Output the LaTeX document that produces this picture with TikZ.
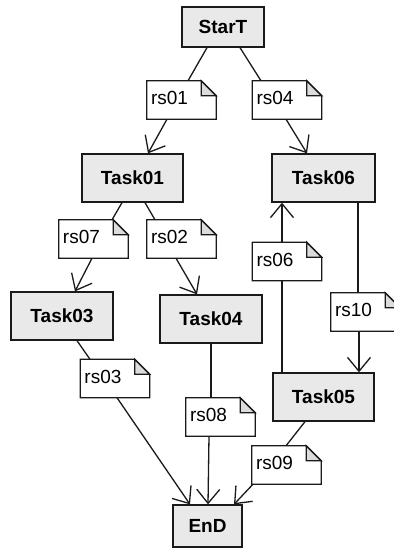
\documentclass[tikz,border=0pt]{standalone}
\usepackage{fontspec}
\setmainfont{Liberation Sans}
\usetikzlibrary{arrows.meta}

\definecolor{linec}{HTML}{1A1A1A}
\definecolor{taskfill}{HTML}{E9E9E9}
\definecolor{foldfill}{HTML}{DCDCDC}

\tikzset{
  task/.style={draw=linec, line width=1.3pt, fill=taskfill, inner sep=0pt,
    minimum width=102pt, minimum height=48pt,
    font=\fontsize{19}{22}\selectfont\bfseries},
  notebase/.style={draw=none, inner xsep=4pt, inner ysep=0pt,
    minimum width=69pt, text width=61pt, align=left, minimum height=38pt,
    font=\fontsize{19}{22}\selectfont},
  noteline/.style={draw=linec, line width=1.3pt, line join=miter, fill=white},
  foldline/.style={draw=linec, line width=1.3pt, fill=foldfill},
  flow/.style={draw=linec, line width=1.3pt},
  flowarrow/.style={flow, -{Straight Barb[length=14pt, width=23pt, line width=1.3pt]}},
}

% a UML-style note with a folded top-right corner
\newcommand\notebox[3]{%
  \node[notebase] (#1) at (#2) {};
  \path[noteline] (#1.north west) -- ([xshift=-15pt]#1.north east)
    -- ([yshift=-15pt]#1.north east) -- (#1.south east) -- (#1.south west) -- cycle;
  \path[foldline] ([xshift=-15pt]#1.north east) -- ([xshift=-15pt,yshift=-15pt]#1.north east)
    -- ([yshift=-15pt]#1.north east) -- cycle;
  \node[notebase, yshift=2pt] at (#1) {#3};
}

\begin{document}
\begin{tikzpicture}[x=1pt, y=-1pt]
  \useasboundingbox[fill=white] (0,0) rectangle (394,550);

  % activities
  \node[task, minimum width=82pt, minimum height=40pt] (start) at (223,27) {StarT};
  \node[task, minimum width=101pt] (t01) at (132.5,178) {Task01};
  \node[task, minimum width=103pt] (t06) at (323.5,178) {Task06};
  \node[task] (t03) at (62,316) {Task03};
  \node[task] (t04) at (211,319) {Task04};
  \node[task, minimum width=101pt] (t05) at (323.5,397) {Task05};
  \node[task, minimum width=69pt, minimum height=42pt] (end) at (207.5,526) {EnD};

  % resource notes
  \notebox{rs01}{181.5,100}{rs01}
  \notebox{rs04}{287,100}{rs04}
  \notebox{rs07}{93.5,239}{rs07}
  \notebox{rs02}{181.5,239}{rs02}
  \notebox{rs03}{115,378.5}{rs03}
  \notebox{rs06}{287,261.5}{rs06}
  \notebox{rs08}{220.5,417}{rs08}
  \notebox{rs10}{365.5,312}{rs10}
  \notebox{rs09}{286.5,465}{rs09}

  % flows
  \draw[flow] ([xshift=-16pt]start.south) -- ([xshift=6.5pt]rs01.north);
  \draw[flow] ([xshift=17pt]start.south) -- ([xshift=-26pt]rs04.north);
  \draw[flowarrow] ([xshift=-14.5pt]rs01.south) -- ([xshift=15.5pt]t01.north);
  \draw[flowarrow] ([xshift=-1pt]rs04.south) -- ([xshift=-16.5pt]t06.north);

  \draw[flow] ([xshift=-10.5pt]t01.south) -- ([xshift=18.5pt]rs07.north);
  \draw[flow] ([xshift=12.5pt]t01.south) -- ([xshift=-26.5pt]rs02.north);
  \draw[flowarrow] ([xshift=-1.5pt]rs07.south) -- ([xshift=13pt]t03.north);
  \draw[flowarrow] ([xshift=-5.5pt]rs02.south) -- ([xshift=-14pt]t04.north);

  \draw[flow] ([xshift=15pt]t03.south) -- ([xshift=-25pt]rs03.north);
  \draw[flowarrow] ([xshift=2pt]rs03.south) -- ([xshift=-17.5pt]end.north);
  \draw[flow] (t04.south) -- ([xshift=-9.5pt]rs08.north);
  \draw[flowarrow] ([xshift=-11.5pt]rs08.south) -- ([xshift=0.5pt]end.north);

  \draw[flow] ([xshift=34.5pt]t06.south) -- ([xshift=-7.5pt]rs10.north);
  \draw[flowarrow] ([xshift=-6.5pt]rs10.south) -- ([xshift=35.5pt]t05.north);
  \draw[flow] ([xshift=-41.5pt]t05.north) -- ([xshift=-5pt]rs06.south);
  \draw[flowarrow] ([xshift=-5pt]rs06.north) -- ([xshift=-41.5pt]t06.south);

  \draw[flow] ([xshift=-18.5pt]t05.south) -- ([xshift=-0.5pt]rs09.north);
  \draw[flowarrow] ([xshift=-33.5pt]rs09.south) -- ([xshift=26.5pt]end.north);
\end{tikzpicture}
\end{document}
